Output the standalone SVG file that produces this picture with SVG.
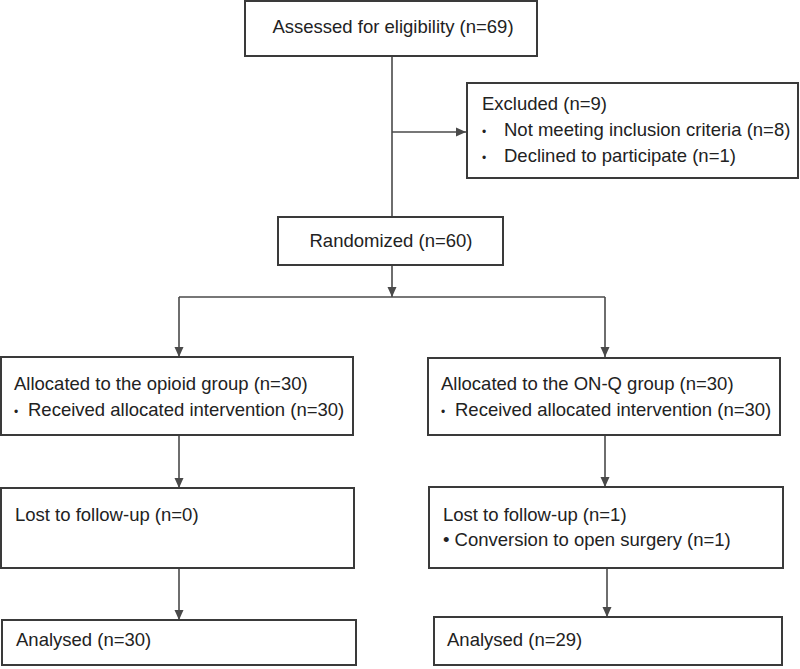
<svg xmlns="http://www.w3.org/2000/svg" width="800" height="669" viewBox="0 0 800 669">
<style>
.box{fill:#fff;stroke:#3a3a3a;stroke-width:2}
.t{font-family:"Liberation Sans",Arial,sans-serif;font-size:18.5px;fill:#222}
.ln{stroke:#4a4a4a;stroke-width:1.6;fill:none}
</style>
<defs>
<marker id="ah" markerWidth="10" markerHeight="10" refX="10" refY="5" orient="auto" markerUnits="userSpaceOnUse">
<path d="M0,0.5 L10,5 L0,9.5 Z" fill="#4a4a4a"/>
</marker>
</defs>
<rect width="800" height="669" fill="#fff"/>
<g id="connectors">
<line class="ln" x1="392" y1="56" x2="392" y2="217"/>
<line class="ln" x1="392" y1="132" x2="466" y2="132" marker-end="url(#ah)"/>
<line class="ln" x1="392" y1="265" x2="392" y2="297" marker-end="url(#ah)"/>
<line class="ln" x1="179" y1="297" x2="605" y2="297"/>
<line class="ln" x1="179" y1="297" x2="179" y2="357" marker-end="url(#ah)"/>
<line class="ln" x1="605" y1="297" x2="605" y2="357" marker-end="url(#ah)"/>
<line class="ln" x1="179" y1="435" x2="179" y2="488" marker-end="url(#ah)"/>
<line class="ln" x1="605" y1="435" x2="605" y2="487" marker-end="url(#ah)"/>
<line class="ln" x1="179" y1="568" x2="179" y2="620" marker-end="url(#ah)"/>
<line class="ln" x1="607" y1="568" x2="607" y2="617" marker-end="url(#ah)"/>
</g>
<g id="assessed">
<rect class="box" x="245" y="1" width="292" height="55"/>
<text class="t" x="393" y="33" text-anchor="middle">Assessed for eligibility (n=69)</text>
</g>
<g id="excluded">
<rect class="box" x="467" y="83" width="331" height="95"/>
<text class="t" x="482" y="110">Excluded (n=9)</text>
<text class="t" x="482" y="136"><tspan font-size="12">•</tspan><tspan x="504">Not meeting inclusion criteria (n=8)</tspan></text>
<text class="t" x="482" y="162"><tspan font-size="12">•</tspan><tspan x="504">Declined to participate (n=1)</tspan></text>
</g>
<g id="randomized">
<rect class="box" x="278" y="217" width="225" height="48"/>
<text class="t" x="391" y="247" text-anchor="middle">Randomized (n=60)</text>
</g>
<g id="alloc-opioid">
<rect class="box" x="1" y="357" width="352" height="78"/>
<text class="t" x="14" y="390">Allocated to the opioid group (n=30)</text>
<text class="t" x="14" y="416"><tspan font-size="12">•</tspan><tspan x="28">Received allocated intervention (n=30)</tspan></text>
</g>
<g id="alloc-onq">
<rect class="box" x="428" y="358" width="352" height="77"/>
<text class="t" x="441" y="390">Allocated to the ON-Q group (n=30)</text>
<text class="t" x="441" y="416"><tspan font-size="12">•</tspan><tspan x="455">Received allocated intervention (n=30)</tspan></text>
</g>
<g id="lost-opioid">
<rect class="box" x="1" y="488" width="353" height="80"/>
<text class="t" x="15" y="521">Lost to follow-up (n=0)</text>
</g>
<g id="lost-onq">
<rect class="box" x="429" y="487" width="354" height="81"/>
<text class="t" x="443" y="521">Lost to follow-up (n=1)</text>
<text class="t" x="443" y="546">• Conversion to open surgery (n=1)</text>
</g>
<g id="analysed-opioid">
<rect class="box" x="2" y="620" width="354" height="45"/>
<text class="t" x="16" y="646">Analysed (n=30)</text>
</g>
<g id="analysed-onq">
<rect class="box" x="434" y="617" width="348" height="48"/>
<text class="t" x="447" y="646">Analysed (n=29)</text>
</g>
</svg>
